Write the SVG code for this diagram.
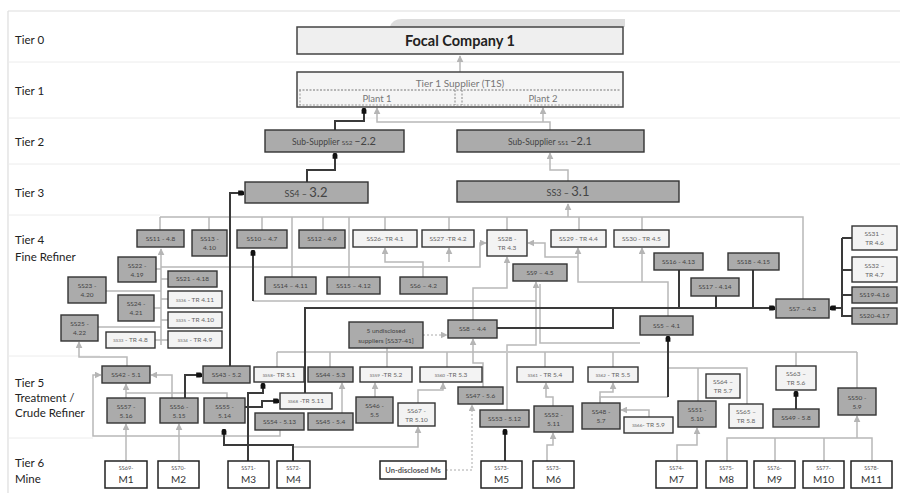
<svg xmlns="http://www.w3.org/2000/svg" width="900" height="493" viewBox="0 0 900 493">
<style>
text{font-family:Lato,"Open Sans","Liberation Sans",sans-serif}
.tier{font-size:11.5px;fill:#222}
.d{fill:#ababab;stroke:#333;stroke-width:1.4}
.l{fill:#f3f3f3;stroke:#333;stroke-width:1.4}
.m{fill:#fff;stroke:#222;stroke-width:1.5}
.t{font-size:6.5px;fill:#444;text-anchor:middle}
.tl{font-size:6.5px;fill:#666;text-anchor:middle}
.ts{font-size:5.5px;fill:#555;text-anchor:middle}
.tm{font-size:10px;fill:#333;text-anchor:middle}
.g{fill:none;stroke:#b8b8b8;stroke-width:1.5}
.gb{fill:none;stroke:#c8c8c8;stroke-width:2.2}
.k{fill:none;stroke:#3a3a3a;stroke-width:2}
.dash{fill:none;stroke:#aaa;stroke-width:1;stroke-dasharray:2,2}
.sep{stroke:#ececec;stroke-width:1}
</style>
<defs>
<marker id="a" viewBox="0 0 10 10" refX="9" refY="5" markerWidth="7" markerHeight="7" markerUnits="userSpaceOnUse" orient="auto"><path d="M0,0 L10,5 L0,10z" fill="#b5b5b5"/></marker>
<marker id="o" viewBox="0 0 10 10" refX="8" refY="5" markerWidth="6" markerHeight="6" markerUnits="userSpaceOnUse" orient="auto"><path d="M0,1 L6,1 A4,4 0 0 1 6,9 L0,9z" fill="#111"/></marker>
</defs>
<rect width="900" height="493" fill="#fff"/>
<g id="frame">
<line x1="8" y1="11" x2="900" y2="11" stroke="#ddd" stroke-width="1.2"/>
<line x1="8" y1="11" x2="8" y2="493" stroke="#ddd" stroke-width="1.2"/>
<line class="sep" x1="8" y1="62" x2="900" y2="62"/>
<line class="sep" x1="8" y1="118" x2="900" y2="118"/>
<line class="sep" x1="8" y1="164" x2="900" y2="164"/>
<line class="sep" x1="8" y1="215" x2="160" y2="215"/>
<line class="sep" x1="8" y1="356" x2="100" y2="356"/>
<line class="sep" x1="8" y1="438" x2="93" y2="438"/>
<path d="M390,27 Q392,19 402,19 H625 V27z" fill="#dcdcdc"/>
</g>
<g id="tiers">
<text class="tier" x="15" y="44">Tier 0</text>
<text class="tier" x="15" y="95">Tier 1</text>
<text class="tier" x="15" y="146">Tier 2</text>
<text class="tier" x="15" y="197">Tier 3</text>
<text class="tier" x="15" y="244">Tier 4</text>
<text class="tier" x="15" y="261">Fine Refiner</text>
<text class="tier" x="15" y="387">Tier 5</text>
<text class="tier" x="15" y="402">Treatment /</text>
<text class="tier" x="15" y="417">Crude Refiner</text>
<text class="tier" x="15" y="467">Tier 6</text>
<text class="tier" x="15" y="483">Mine</text>
</g>
<g id="connectors">
<path class="g" d="M460,72 V56" marker-end="url(#a)"/>
<path class="g" d="M550,130 V122 H377 V108" marker-end="url(#a)"/>
<path class="g" d="M543,122 V108" marker-end="url(#a)"/>
<path class="g" d="M568,181 V170 H550 V153" marker-end="url(#a)"/>
<path class="g" d="M160,217 H803 V299"/>
<path class="g" d="M568,217 V204" marker-end="url(#a)"/>
<path class="g" d="M160,217 V230 M209,217 V230 M262,217 V230 M292,217 V277 M323,217 V230 M349,217 V277 M385,217 V230 M449,217 V230 M507,217 V230 M579,217 V230 M642,217 V230"/>
<path class="g" d="M161,345 V249" marker-end="url(#a)"/>
<path class="g" d="M156,269 H161 M168,279 H161 M106,291 H161 M168,299 H161 M154,308 H161 M168,320 H161 M98,327 H161 M155,340 H168"/>
<path class="g" d="M161,267 H480 V243 H486" marker-end="url(#a)"/>
<path class="g" d="M578,257 H545 V243 H528" marker-end="url(#a)"/>
<path class="g" d="M423,277 V262 H385 V248" marker-end="url(#a)"/>
<path class="g" d="M449,262 V248" marker-end="url(#a)"/>
<path class="g" d="M473,320 V288 H507 V257" marker-end="url(#a)"/>
<path class="g" d="M668,316 V282 H578 V248" marker-end="url(#a)"/>
<path class="g" d="M642,282 V248" marker-end="url(#a)"/>
<path class="g" d="M507,410 V345 H536 V282" marker-end="url(#a)"/>
<path class="g" d="M540,284 V343 H640"/>
<path class="g" d="M253,301 H536"/>
<path class="gb" d="M277,352 H857"/>
<path class="g" d="M277,352 V367 M330,352 V367 M387,348 V367 M447,352 V367 M545,352 V367 M613,352 V367 M796,352 V366 M857,352 V388"/>
<path class="g" d="M483,387 V363 H473 V339" marker-end="url(#a)"/>
<path class="dash" d="M423,335 H447" marker-end="url(#a)"/>
<path class="dash" d="M446,470 H472 V405" marker-end="url(#a)"/>
<path class="g" d="M418,403 V390 H443 V383" marker-end="url(#a)"/>
<path class="g" d="M375,397 V383" marker-end="url(#a)"/>
<path class="g" d="M342,413 V383" marker-end="url(#a)"/>
<path class="g" d="M553,406 V397 H546 V383" marker-end="url(#a)"/>
<path class="g" d="M600,403 V392 H613 V383" marker-end="url(#a)"/>
<path class="g" d="M649,417 V410 H621" marker-end="url(#a)"/>
<path class="g" d="M126,461 V424" marker-end="url(#a)"/>
<path class="g" d="M179,461 V424" marker-end="url(#a)"/>
<path class="g" d="M677,461 V445 H697 V428" marker-end="url(#a)"/>
<path class="g" d="M727,461 V438 H872 V461 M775,438 V461 M824,438 V461"/>
<path class="g" d="M857,438 V416" marker-end="url(#a)"/>
<path class="g" d="M547,461 V445 H553 V433" marker-end="url(#a)"/>
<path class="g" d="M126,398 V384" marker-end="url(#a)"/>
<path class="g" d="M172,398 V375 H151" marker-end="url(#a)"/>
<path class="g" d="M227,398 V393 H126"/>
<path class="g" d="M280,430 V436 H93 V375 H101" marker-end="url(#a)"/>
<path class="g" d="M127,366 V357 H79 V342" marker-end="url(#a)"/>
<path class="g" d="M293,447 H418 V427" marker-end="url(#a)"/>
<path class="g" d="M668,368 H747 V404 M698,368 V401 M668,397 H600 V403"/>
<path class="k" d="M335,130 V121 H364 V109" marker-end="url(#o)"/>
<path class="k" d="M307,182 V170 H335 V154" marker-end="url(#o)"/>
<path class="k" d="M230,366 V193 H243" marker-end="url(#o)"/>
<path class="k" d="M305,393 V308 H774" marker-end="url(#o)"/>
<path class="k" d="M497,328 H613 V308"/>
<path class="k" d="M679,270 V308 M716,296 V308 M753,270 V308"/>
<path class="k" d="M842,238 V317 M852,238 H842 M852,270 H842 M852,295 H842 M852,316 H842"/>
<path class="k" d="M842,308 H831" marker-end="url(#o)"/>
<path class="k" d="M668,397 V337" marker-end="url(#o)"/>
<path class="k" d="M796,409 V392" marker-end="url(#o)"/>
<path class="k" d="M505,461 V430" marker-end="url(#o)"/>
<path class="k" d="M248,461 V393 H263 V384" marker-end="url(#o)"/>
<path class="k" d="M185,398 V375 H201" marker-end="url(#o)"/>
<path class="k" d="M245,407 H262 V401 H278" marker-end="url(#o)"/>
<path class="k" d="M293,461 V445 H224 V430" marker-end="url(#o)"/>
<path class="k" d="M253,301 V251" marker-end="url(#o)" stroke-width="1.2"/>
</g>
<g id="focal"><rect x="297" y="27" width="326" height="27" fill="#efefef" stroke="#444" stroke-width="1.5"/><text x="460" y="46" text-anchor="middle" font-size="14.5" font-weight="bold" fill="#222">Focal Company 1</text></g>
<g id="t1s"><rect x="297" y="72" width="326" height="35" fill="#f5f5f5" stroke="#444" stroke-width="1.5"/><line x1="299" y1="90" x2="621" y2="90" stroke="#777" stroke-dasharray="2,1.5"/><line x1="299" y1="105" x2="621" y2="105" stroke="#999" stroke-dasharray="2,1.5"/><line x1="300" y1="90" x2="300" y2="105" stroke="#999" stroke-dasharray="2,1.5"/><line x1="455" y1="90" x2="455" y2="105" stroke="#888" stroke-dasharray="2,1.5"/><line x1="462" y1="90" x2="462" y2="105" stroke="#888" stroke-dasharray="2,1.5"/><text x="460" y="87" text-anchor="middle" font-size="10" fill="#777">Tier 1 Supplier (T1S)</text><text x="377" y="102" text-anchor="middle" font-size="9.5" fill="#777">Plant 1</text><text x="543" y="102" text-anchor="middle" font-size="9.5" fill="#777">Plant 2</text></g>
<g id="ss2"><rect class="d" x="265" y="130" width="139" height="22"/><text class="t" x="334" y="145"><tspan font-size="8.5">Sub-Supplier </tspan><tspan font-size="6.5">SS2 </tspan><tspan font-size="11">–2.2</tspan></text></g>
<g id="ss1"><rect class="d" x="457" y="130" width="187" height="22"/><text class="t" x="550" y="145"><tspan font-size="8.5">Sub-Supplier </tspan><tspan font-size="6.5">SS1 </tspan><tspan font-size="11">–2.1</tspan></text></g>
<g id="ss4"><rect class="d" x="245" y="182" width="123" height="21"/><text class="t" x="306" y="197"><tspan font-size="9">SS4 – </tspan><tspan font-size="13">3.2</tspan></text></g>
<g id="ss3"><rect class="d" x="457" y="181" width="222" height="21"/><text class="t" x="568" y="196"><tspan font-size="9">SS3 – </tspan><tspan font-size="13">3.1</tspan></text></g>
<g id="ss11"><rect class="d" x="137" y="230" width="47" height="17"/><text class="t" x="160.5" y="240.8">SS11 - 4.8</text></g>
<g id="ss13"><rect class="d" x="192" y="230" width="35" height="26"/><text class="t" x="209.5" y="241">SS13 -</text><text class="t" x="209.5" y="250">4.10</text></g>
<g id="ss10"><rect class="d" x="237" y="230" width="50" height="18"/><text class="t" x="262" y="241.3">SS10 – 4.7</text></g>
<g id="ss12"><rect class="d" x="299" y="230" width="46" height="18"/><text class="t" x="322" y="241.3">SS12 - 4.9</text></g>
<g id="ss26"><rect class="l" x="353" y="230" width="64" height="17"/><text class="tl" x="385" y="240.8">SS26- TR 4.1</text></g>
<g id="ss27"><rect class="l" x="422" y="230" width="52" height="17"/><text class="tl" x="448" y="240.8">SS27 -TR 4.2</text></g>
<g id="ss28"><rect class="l" x="487" y="230" width="40" height="26"/><text class="tl" x="507" y="241">SS28 -</text><text class="tl" x="507" y="250">TR 4.3</text></g>
<g id="ss29"><rect class="l" x="551" y="230" width="55" height="17"/><text class="tl" x="578.5" y="240.8">SS29 - TR 4.4</text></g>
<g id="ss30"><rect class="l" x="614" y="230" width="55" height="17"/><text class="tl" x="641.5" y="240.8">SS30 - TR 4.5</text></g>
<g id="ss31"><rect class="l" x="852" y="226" width="45" height="24"/><text class="tl" x="874.5" y="236">SS31 –</text><text class="tl" x="874.5" y="245">TR 4.6</text></g>
<g id="ss32"><rect class="l" x="852" y="257" width="45" height="25"/><text class="tl" x="874.5" y="267.5">SS32 –</text><text class="tl" x="874.5" y="276.5">TR 4.7</text></g>
<g id="ss19"><rect class="d" x="852" y="287" width="45" height="16"/><text class="t" x="874.5" y="297.3">SS19-4.16</text></g>
<g id="ss20"><rect class="d" x="852" y="308" width="45" height="16"/><text class="t" x="874.5" y="318.3">SS20-4.17</text></g>
<g id="ss16"><rect class="d" x="654" y="253" width="49" height="17"/><text class="t" x="678.5" y="263.8">SS16 - 4.13</text></g>
<g id="ss18"><rect class="d" x="728" y="253" width="51" height="17"/><text class="t" x="753.5" y="263.8">SS18 - 4.15</text></g>
<g id="ss17"><rect class="d" x="691" y="278" width="48" height="18"/><text class="t" x="715" y="289.3">SS17 - 4.14</text></g>
<g id="ss7"><rect class="d" x="776" y="299" width="53" height="19"/><text class="t" x="802.5" y="310.8">SS7 – 4.3</text></g>
<g id="ss5"><rect class="d" x="640" y="316" width="53" height="19"/><text class="t" x="666.5" y="327.8">SS5 – 4.1</text></g>
<g id="ss9"><rect class="d" x="513" y="264" width="54" height="17"/><text class="t" x="540" y="274.8">SS9 – 4.5</text></g>
<g id="ss14"><rect class="d" x="265" y="277" width="51" height="17"/><text class="t" x="290.5" y="287.8">SS14 – 4.11</text></g>
<g id="ss15"><rect class="d" x="327" y="277" width="53" height="17"/><text class="t" x="353.5" y="287.8">SS15 – 4.12</text></g>
<g id="ss6"><rect class="d" x="400" y="277" width="47" height="17"/><text class="t" x="423.5" y="287.8">SS6 – 4.2</text></g>
<g id="ss8"><rect class="d" x="448" y="320" width="49" height="18"/><text class="t" x="472.5" y="331.3">SS8 – 4.4</text></g>
<g id="ss37-41"><rect class="d" x="349" y="322" width="74" height="26"/><text class="t" x="386" y="333" font-size="7.5">5 undisclosed</text><text class="t" x="386" y="343" font-size="7">suppliers [SS37-41]</text></g>
<g id="ss22"><rect class="d" x="118" y="257" width="38" height="25"/><text class="t" x="137" y="267.5">SS22 -</text><text class="t" x="137" y="276.5">4.19</text></g>
<g id="ss21"><rect class="d" x="168" y="271" width="49" height="16"/><text class="t" x="192.5" y="281.3">SS21 - 4.18</text></g>
<g id="ss23"><rect class="d" x="68" y="277" width="38" height="26"/><text class="t" x="87" y="288">SS23 -</text><text class="t" x="87" y="297">4.20</text></g>
<g id="ss24"><rect class="d" x="118" y="295" width="36" height="26"/><text class="t" x="136" y="306">SS24 -</text><text class="t" x="136" y="315">4.21</text></g>
<g id="ss36"><rect class="l" x="168" y="291" width="54" height="17"/><text class="tl" x="195" y="301.8"><tspan font-size="4.5">SS36</tspan> - TR 4.11</text></g>
<g id="ss35"><rect class="l" x="168" y="312" width="54" height="16"/><text class="tl" x="195" y="322.3"><tspan font-size="4.5">SS35</tspan> - TR 4.10</text></g>
<g id="ss34"><rect class="l" x="168" y="331" width="54" height="17"/><text class="tl" x="195" y="341.8"><tspan font-size="4.5">SS34</tspan> - TR 4.9</text></g>
<g id="ss33"><rect class="l" x="106" y="332" width="49" height="16"/><text class="tl" x="130.5" y="342.3"><tspan font-size="4.5">SS33</tspan> - TR 4.8</text></g>
<g id="ss25"><rect class="d" x="61" y="315" width="37" height="26"/><text class="t" x="79.5" y="326">SS25 -</text><text class="t" x="79.5" y="335">4.22</text></g>
<g id="ss42"><rect class="d" x="102" y="366" width="48" height="17"/><text class="t" x="126" y="376.8">SS42 - 5.1</text></g>
<g id="ss43"><rect class="d" x="203" y="366" width="47" height="17"/><text class="t" x="226.5" y="376.8">SS43 - 5.2</text></g>
<g id="ss58"><rect class="l" x="254" y="367" width="50" height="15"/><text class="tl" x="279" y="376.8"><tspan font-size="4.5">SS58</tspan>- TR 5.1</text></g>
<g id="ss44"><rect class="d" x="308" y="367" width="45" height="15"/><text class="t" x="330.5" y="376.8">SS44 - 5.3</text></g>
<g id="ss59"><rect class="l" x="360" y="367" width="52" height="15"/><text class="tl" x="386" y="376.8"><tspan font-size="4.5">SS59</tspan> -TR 5.2</text></g>
<g id="ss60"><rect class="l" x="420" y="367" width="62" height="15"/><text class="tl" x="451" y="376.8"><tspan font-size="4.5">SS60</tspan> -TR 5.3</text></g>
<g id="ss61"><rect class="l" x="517" y="367" width="56" height="15"/><text class="tl" x="545" y="376.8"><tspan font-size="4.5">SS61</tspan> - TR 5.4</text></g>
<g id="ss62"><rect class="l" x="588" y="367" width="50" height="15"/><text class="tl" x="613" y="376.8"><tspan font-size="4.5">SS62</tspan> - TR 5.5</text></g>
<g id="ss63"><rect class="l" x="776" y="366" width="40" height="24"/><text class="tl" x="796" y="376" font-size="5.5">SS63 –</text><text class="tl" x="796" y="385">TR 5.6</text></g>
<g id="ss64"><rect class="l" x="706" y="374" width="34" height="24"/><text class="tl" x="723" y="384" font-size="4.5">SS64 –</text><text class="tl" x="723" y="393">TR 5.7</text></g>
<g id="ss50"><rect class="d" x="838" y="388" width="38" height="27"/><text class="t" x="857" y="399.5">SS50 -</text><text class="t" x="857" y="408.5">5.9</text></g>
<g id="ss68"><rect class="l" x="280" y="393" width="52" height="16"/><text class="tl" x="306" y="403.3"><tspan font-size="4.5">SS68</tspan> -TR 5.11</text></g>
<g id="ss57"><rect class="d" x="107" y="398" width="38" height="25"/><text class="t" x="126" y="408.5">SS57 -</text><text class="t" x="126" y="417.5">5.16</text></g>
<g id="ss56"><rect class="d" x="160" y="398" width="38" height="25"/><text class="t" x="179" y="408.5">SS56 -</text><text class="t" x="179" y="417.5">5.15</text></g>
<g id="ss55"><rect class="d" x="204" y="398" width="41" height="25"/><text class="t" x="224.5" y="408.5">SS55 -</text><text class="t" x="224.5" y="417.5">5.14</text></g>
<g id="ss54"><rect class="d" x="255" y="413" width="49" height="17"/><text class="t" x="279.5" y="423.8">SS54 - 5.13</text></g>
<g id="ss45"><rect class="d" x="308" y="413" width="45" height="17"/><text class="t" x="330.5" y="423.8">SS45 - 5.4</text></g>
<g id="ss46"><rect class="d" x="356" y="397" width="37" height="26"/><text class="t" x="374.5" y="408">SS46 -</text><text class="t" x="374.5" y="417">5.5</text></g>
<g id="ss67"><rect class="l" x="398" y="403" width="37" height="23"/><text class="tl" x="416.5" y="412.5" font-size="4.5">SS67 -</text><text class="tl" x="416.5" y="421.5">TR 5.10</text></g>
<g id="ss47"><rect class="d" x="458" y="387" width="45" height="17"/><text class="t" x="480.5" y="397.8">SS47 - 5.6</text></g>
<g id="ss53"><rect class="d" x="480" y="410" width="49" height="17"/><text class="t" x="504.5" y="420.8">SS53 - 5.12</text></g>
<g id="ss52"><rect class="d" x="534" y="406" width="39" height="26"/><text class="t" x="553.5" y="417">SS52 -</text><text class="t" x="553.5" y="426">5.11</text></g>
<g id="ss48"><rect class="d" x="582" y="403" width="38" height="26"/><text class="t" x="601" y="414">SS48 -</text><text class="t" x="601" y="423">5.7</text></g>
<g id="ss66"><rect class="l" x="624" y="417" width="49" height="16"/><text class="tl" x="648.5" y="427.3"><tspan font-size="4.5">SS66</tspan>- TR 5.9</text></g>
<g id="ss51"><rect class="d" x="678" y="401" width="38" height="26"/><text class="t" x="697" y="412">SS51 -</text><text class="t" x="697" y="421">5.10</text></g>
<g id="ss65"><rect class="l" x="729" y="404" width="34" height="24"/><text class="tl" x="746" y="414" font-size="4.5">SS65 –</text><text class="tl" x="746" y="423">TR 5.8</text></g>
<g id="ss49"><rect class="d" x="773" y="409" width="46" height="18"/><text class="t" x="796" y="420.3">SS49 - 5.8</text></g>
<g id="m1"><rect class="m" x="105" y="461" width="42" height="27"/><text class="ts" x="126" y="470">SS69-</text><text class="tm" x="126" y="483">M1</text></g>
<g id="m2"><rect class="m" x="158" y="461" width="41" height="27"/><text class="ts" x="178.5" y="470">SS70-</text><text class="tm" x="178.5" y="483">M2</text></g>
<g id="m3"><rect class="m" x="228" y="461" width="41" height="27"/><text class="ts" x="248.5" y="470">SS71-</text><text class="tm" x="248.5" y="483">M3</text></g>
<g id="m4"><rect class="m" x="277" y="461" width="33" height="27"/><text class="ts" x="293.5" y="470">SS72-</text><text class="tm" x="293.5" y="483">M4</text></g>
<g id="mu"><rect class="m" x="380" y="461" width="66" height="18"/><text x="413" y="473" text-anchor="middle" font-size="7.5" font-weight="bold" fill="#555">Un-disclosed Ms</text></g>
<g id="m5"><rect class="m" x="481" y="461" width="41" height="27"/><text class="ts" x="501.5" y="470">SS73-</text><text class="tm" x="501.5" y="483">M5</text></g>
<g id="m6"><rect class="m" x="533" y="461" width="41" height="27"/><text class="ts" x="553.5" y="470">SS73-</text><text class="tm" x="553.5" y="483">M6</text></g>
<g id="m7"><rect class="m" x="656" y="461" width="41" height="27"/><text class="ts" x="676.5" y="470">SS74-</text><text class="tm" x="676.5" y="483">M7</text></g>
<g id="m8"><rect class="m" x="706" y="461" width="41" height="27"/><text class="ts" x="726.5" y="470">SS75-</text><text class="tm" x="726.5" y="483">M8</text></g>
<g id="m9"><rect class="m" x="754" y="461" width="41" height="27"/><text class="ts" x="774.5" y="470">SS76-</text><text class="tm" x="774.5" y="483">M9</text></g>
<g id="m10"><rect class="m" x="803" y="461" width="41" height="27"/><text class="ts" x="823.5" y="470">SS77-</text><text class="tm" x="823.5" y="483">M10</text></g>
<g id="m11"><rect class="m" x="851" y="461" width="41" height="27"/><text class="ts" x="871.5" y="470">SS78-</text><text class="tm" x="871.5" y="483">M11</text></g>
</svg>
